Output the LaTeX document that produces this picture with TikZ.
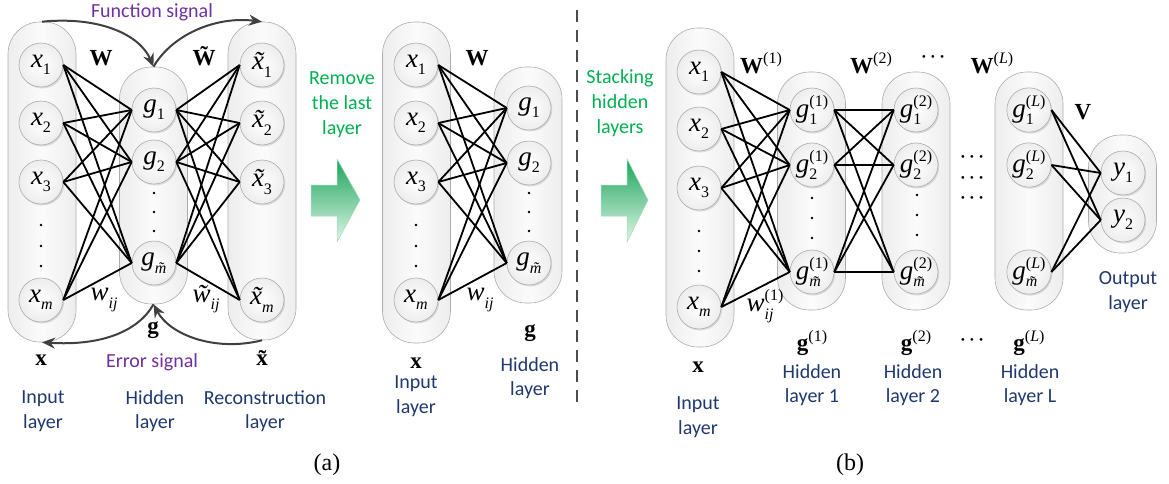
\documentclass[tikz,border=0pt]{standalone}
\usepackage{fontspec}
\setmainfont{Liberation Serif}
\newfontfamily\labfont{Carlito}
\usetikzlibrary{arrows.meta,shadows}
\definecolor{labblue}{RGB}{31,56,110}
\definecolor{sigpurple}{RGB}{112,48,160}
\definecolor{stepgreen}{RGB}{0,176,80}
\definecolor{arrgray}{RGB}{64,64,64}
\definecolor{gdark}{RGB}{25,165,90}
\definecolor{glight}{RGB}{225,245,232}
\newcommand{\sbs}[1]{\raisebox{-0.27em}{\fontsize{16}{16}\selectfont #1}}
\newcommand{\sps}[1]{\raisebox{0.42em}{\fontsize{16}{16}\selectfont #1}}
\newcommand{\sbsp}[2]{\rlap{\sbs{#1}}\sps{#2}}
\newcommand{\cdts}{\textperiodcentered\kern1.5pt\textperiodcentered\kern1.5pt\textperiodcentered}
\begin{document}
\begin{tikzpicture}[x=1pt,y=-1pt,
 layerbox/.style={rectangle, draw=gray!65, line width=0.6pt, rounded corners=32pt, inner sep=0pt,
   left color=gray!14, right color=gray!14, middle color=gray!3, minimum width=68pt},
 neuron/.style={circle, draw=gray!65, line width=0.6pt, minimum size=44pt, inner sep=0pt,
   inner color=white, outer color=gray!14,
   drop shadow={shadow xshift=1.2pt, shadow yshift=-1.5pt, opacity=0.25},
   font=\fontsize{27}{30}\selectfont},
 conn/.style={line width=1.8pt, black},
 sig/.style={line width=2pt, arrgray, -{Stealth[length=13pt,width=11pt]}},
 lab/.style={text=labblue, align=center, font=\labfont\fontsize{20}{24.5}\selectfont, inner sep=0pt},
 siglab/.style={text=sigpurple, font=\labfont\fontsize{20}{24}\selectfont, inner sep=0pt},
 steplab/.style={text=stepgreen, align=center, font=\labfont\fontsize{20}{25}\selectfont, inner sep=0pt},
 mlab/.style={font=\fontsize{23}{26}\selectfont, inner sep=0pt},
 wlab/.style={font=\fontsize{27}{30}\selectfont, inner sep=0pt},
 capt/.style={font=\fontsize{24}{28}\selectfont, inner sep=0pt},
 bigarrow/.style={draw=gdark!40, line width=0.5pt, top color=gdark, bottom color=glight},
 dot/.style={circle, fill=black, inner sep=0pt, minimum size=2.6pt}
]
\useasboundingbox (0,0) rectangle (1169,484);

% ===================== (a) autoencoder =====================
\node[layerbox, minimum height=320pt] (inA) at (42,182) {};
\node[layerbox, minimum height=237pt] (hidA) at (153.5,185.5) {};
\node[layerbox, minimum height=318pt] (recA) at (262,181) {};

\node[neuron] (ax1) at (41,65) {{\itshape x}\sbs{1}};
\node[neuron] (ax2) at (41,123) {{\itshape x}\sbs{2}};
\node[neuron] (ax3) at (41,182) {{\itshape x}\sbs{3}};
\node[neuron] (axm) at (41,300) {{\itshape x}\sbs{\itshape m}};
\foreach \yy in {225,246,266} \node[dot] at (41,\yy) {};

\node[neuron] (ag1) at (154,110) {{\itshape g}\sbs{1}};
\node[neuron] (ag2) at (154,162) {{\itshape g}\sbs{2}};
\node[neuron] (agm) at (154,263) {{\itshape g}\sbs{\itshape\~m}};
\foreach \yy in {193,212,231} \node[dot] at (154,\yy) {};

\node[neuron] (ar1) at (262,65) {{\itshape\~x}\sbs{1}};
\node[neuron] (ar2) at (262,123) {{\itshape\~x}\sbs{2}};
\node[neuron] (ar3) at (262,182) {{\itshape\~x}\sbs{3}};
\node[neuron] (arm) at (262,300) {{\itshape\~x}\sbs{\itshape m}};

\foreach \a in {ax1,ax2,ax3,axm}
  \foreach \b in {ag1,ag2,agm}
    \draw[conn] (\a.east) -- (\b.west);
\foreach \a in {ar1,ar2,ar3,arm}
  \foreach \b in {ag1,ag2,agm}
    \draw[conn] (\a.west) -- (\b.east);

\node[mlab] (aW) at (101,58) {\bfseries W};
\node[mlab] (aWt) at (204,56) {\bfseries\~W};
\node[wlab] (awij) at (104,300) {{\itshape w}\sbs{\itshape ij}};
\node[wlab] (awtij) at (206,299) {{\itshape\~w}\sbs{\itshape ij}};
\node[mlab] (ag) at (153,330) {\bfseries g};
\node[mlab] (ax) at (41,360) {\bfseries x};
\node[mlab] (axt) at (262,358) {\bfseries\~x};

\node[siglab] (fsig) at (152,12) {Function signal};
\node[siglab] (esig) at (152,362) {Error signal};

\draw[sig] (inA.north) .. controls (100,16) and (140,35) .. (hidA.north);
\draw[sig] (hidA.north) .. controls (172,35) and (215,16) .. (recA.north);
\draw[sig] (recA.south) .. controls (215,352) and (170,335) .. (hidA.south);
\draw[sig] (hidA.south) .. controls (138,332) and (100,346) .. (inA.south);

\node[lab] (alIn) at (43,411) {Input\\layer};
\node[lab] (alHid) at (155,411) {Hidden\\layer};
\node[lab] (alRec) at (265,411) {Reconstruction\\layer};

% ===================== arrow: remove last layer =====================
\node[steplab] (remove) at (342,105) {Remove\\the last\\layer};
\path[bigarrow] (311,185) -- (337,185) -- (337,159) -- (360,200) -- (337,242) -- (337,216) -- (311,216) -- cycle;

% ===================== middle network =====================
\node[layerbox, minimum height=321pt] (inM) at (416.5,182.5) {};
\node[layerbox, minimum height=236pt] (hidM) at (528,185) {};

\node[neuron] (mx1) at (416,65) {{\itshape x}\sbs{1}};
\node[neuron] (mx2) at (416,123) {{\itshape x}\sbs{2}};
\node[neuron] (mx3) at (416,182) {{\itshape x}\sbs{3}};
\node[neuron] (mxm) at (416,300) {{\itshape x}\sbs{\itshape m}};
\foreach \yy in {225,246,266} \node[dot] at (416,\yy) {};

\node[neuron] (mg1) at (529,108) {{\itshape g}\sbs{1}};
\node[neuron] (mg2) at (529,163) {{\itshape g}\sbs{2}};
\node[neuron] (mgm) at (529,263) {{\itshape g}\sbs{\itshape\~m}};
\foreach \yy in {193,212,231} \node[dot] at (529,\yy) {};

\foreach \a in {mx1,mx2,mx3,mxm}
  \foreach \b in {mg1,mg2,mgm}
    \draw[conn] (\a.east) -- (\b.west);

\node[mlab] (mW) at (477,58) {\bfseries W};
\node[wlab] (mwij) at (480,300) {{\itshape w}\sbs{\itshape ij}};
\node[mlab] (mx) at (416,363) {\bfseries x};
\node[mlab] (mg) at (530,333) {\bfseries g};
\node[lab] (mlIn) at (416,396) {Input\\layer};
\node[lab] (mlHid) at (530,378) {Hidden\\layer};

\node[capt] (capa) at (327,465) {(a)};

% separator
\draw[line width=1.5pt, gray!60!black, dash pattern=on 12pt off 8pt] (577,10) -- (577,402);

% ===================== (b) stacked =====================
\node[steplab] (stack) at (620,103) {Stacking\\hidden\\layers};
\path[bigarrow] (601,185) -- (627,185) -- (627,159) -- (648,200) -- (627,242) -- (627,216) -- (601,216) -- cycle;

\node[layerbox, minimum height=319pt] (inB) at (700,187.5) {};
\node[layerbox, minimum height=238pt] (h1B) at (811.5,191) {};
\node[layerbox, minimum height=238pt] (h2B) at (916,191) {};
\node[layerbox, minimum height=238pt] (hLB) at (1029,191) {};
\node[layerbox, minimum height=118pt] (outB) at (1122.5,194) {};

\node[neuron] (bx1) at (699,72) {{\itshape x}\sbs{1}};
\node[neuron] (bx2) at (699,129) {{\itshape x}\sbs{2}};
\node[neuron] (bx3) at (699,188) {{\itshape x}\sbs{3}};
\node[neuron] (bxm) at (699,307) {{\itshape x}\sbs{\itshape m}};
\foreach \yy in {231,251,271} \node[dot] at (699,\yy) {};

\node[neuron] (b1g1) at (812,110) {{\itshape g}\sbsp{1}{(1)}};
\node[neuron] (b1g2) at (812,165) {{\itshape g}\sbsp{2}{(1)}};
\node[neuron] (b1gm) at (812,272) {{\itshape g}\sbsp{\itshape\~m}{(1)}};
\foreach \yy in {198,218,238} \node[dot] at (812,\yy) {};

\node[neuron] (b2g1) at (916,110) {{\itshape g}\sbsp{1}{(2)}};
\node[neuron] (b2g2) at (916,165) {{\itshape g}\sbsp{2}{(2)}};
\node[neuron] (b2gm) at (916,272) {{\itshape g}\sbsp{\itshape\~m}{(2)}};
\foreach \yy in {195,215,235} \node[dot] at (917,\yy) {};

\node[neuron] (bLg1) at (1029,110) {{\itshape g}\sbsp{1}{({\itshape L})}};
\node[neuron] (bLg2) at (1029,165) {{\itshape g}\sbsp{2}{({\itshape L})}};
\node[neuron] (bLgm) at (1029,272) {{\itshape g}\sbsp{\itshape\~m}{({\itshape L})}};

\node[neuron] (by1) at (1123,173) {{\itshape y}\sbs{1}};
\node[neuron] (by2) at (1123,220) {{\itshape y}\sbs{2}};

\foreach \a in {bx1,bx2,bx3,bxm}
  \foreach \b in {b1g1,b1g2,b1gm}
    \draw[conn] (\a.east) -- (\b.west);
\foreach \a in {b1g1,b1g2,b1gm}
  \foreach \b in {b2g1,b2g2,b2gm}
    \draw[conn] (\a.east) -- (\b.west);
\foreach \a in {bLg1,bLg2,bLgm}
  \foreach \b in {by1,by2}
    \draw[conn] (\a.east) -- (\b.west);

\node[mlab] (bW1) at (761,63) {{\bfseries W}\sps{(1)}};
\node[mlab] (bW2) at (871,63) {{\bfseries W}\sps{(2)}};
\node[mlab] (bdt) at (933,60) {\cdts};
\node[mlab] (bWL) at (992,63) {{\bfseries W}\sps{({\itshape L})}};
\node[mlab] (bV) at (1083,112) {\bfseries V};
\node[wlab] (bwij) at (765,306) {{\itshape w}\sbsp{\itshape ij}{(1)}};

\node[align=center, inner sep=0pt, font=\fontsize{23}{20.5}\selectfont] (bdots) at (972,181) {\cdts\\\cdts\\\cdts};

\node[mlab] (bx) at (698,367) {\bfseries x};
\node[mlab] (bg1) at (812,343) {{\bfseries g}\sps{(1)}};
\node[mlab] (bg2) at (916,343) {{\bfseries g}\sps{(2)}};
\node[mlab] (bgd) at (972,343) {\cdts};
\node[mlab] (bgL) at (1029,343) {{\bfseries g}\sps{({\itshape L})}};

\node[lab] (blIn) at (698,417) {Input\\layer};
\node[lab] (blH1) at (812,385) {Hidden\\layer 1};
\node[lab] (blH2) at (913,385) {Hidden\\layer 2};
\node[lab] (blHL) at (1030,385) {Hidden\\layer L};
\node[lab] (blOut) at (1128,292) {Output\\layer};

\node[capt] (capb) at (850,465) {(b)};
\end{tikzpicture}
\end{document}
